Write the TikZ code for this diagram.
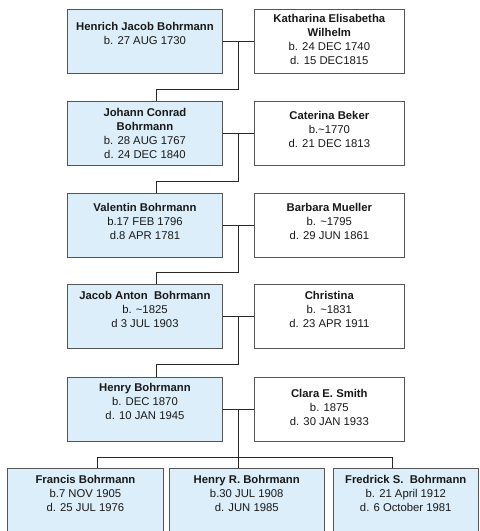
\documentclass[tikz,border=0pt]{standalone}
\usepackage{fontspec}
\setmainfont{Liberation Sans}
\usetikzlibrary{calc}
\definecolor{boxblue}{RGB}{220,238,249}
\definecolor{edgegray}{RGB}{85,85,85}
\definecolor{linegray}{RGB}{40,40,40}
\definecolor{txt}{RGB}{25,25,25}
\newcommand{\fstrut}{\rule{0pt}{9pt}}
\begin{document}
\begin{tikzpicture}[x=1pt,y=-1pt,
  person/.style={draw=edgegray,line width=0.9pt,fill=boxblue,inner sep=0pt,
    minimum height=64pt,anchor=north west},
  spouse/.style={draw=edgegray,line width=0.9pt,fill=white,inner sep=0pt,
    minimum height=64pt,minimum width=149.2pt,anchor=north west},
  lbox/.style={person,minimum width=155.6pt},
  info/.style={anchor=north,inner sep=0pt,align=center,text=txt,
    font=\fontsize{11.3}{14}\selectfont},
  link/.style={draw=linegray,line width=0.9pt}]
\clip (0,0) rectangle (480,531);
\fill[white] (0,0) rectangle (480,531);
% boxes
\node[lbox] (p1) at (66.7,9.3) {};
\node[spouse] (s1) at (254.3,9.3) {};
\node[lbox] (p2) at (66.7,100.9) {};
\node[spouse] (s2) at (254.3,100.9) {};
\node[lbox] (p3) at (66.7,192.7) {};
\node[spouse] (s3) at (254.3,192.7) {};
\node[lbox] (p4) at (66.7,284.3) {};
\node[spouse] (s4) at (254.3,284.3) {};
\node[lbox] (p5) at (66.7,376.5) {};
\node[spouse] (s5) at (254.3,376.5) {};
\node[person,minimum width=155.4pt] (k1) at (7.3,468) {};
\node[person,minimum width=155.6pt] (k2) at (168.5,468) {};
\node[person,minimum width=145.2pt] (k3) at (332.7,468) {};
% texts
\node[info] (tp1) at ($(p1.north)+(0,11.7)$) {\fstrut\textbf{Henrich Jacob Bohrmann}\\b. 27 AUG 1730};
\node[info] (ts1) at ($(s1.north)+(0,4.0)$) {\fstrut\textbf{Katharina Elisabetha}\\\textbf{Wilhelm}\\b. 24 DEC 1740\\d. 15 DEC1815};
\node[info] (tp2) at ($(p2.north)+(0,6.6)$) {\fstrut\textbf{Johann Conrad}\\\textbf{Bohrmann}\\b. 28 AUG 1767\\d. 24 DEC 1840};
\node[info] (ts2) at ($(s2.north)+(0,9.6)$) {\fstrut\textbf{Caterina Beker}\\b.\textasciitilde1770\\d. 21 DEC 1813};
\node[info] (tp3) at ($(p3.north)+(0,9.6)$) {\fstrut\textbf{Valentin Bohrmann}\\b.17 FEB 1796\\d.8 APR 1781};
\node[info] (ts3) at ($(s3.north)+(0,9.6)$) {\fstrut\textbf{Barbara Mueller}\\b. \textasciitilde1795\\d. 29 JUN 1861};
\node[info] (tp4) at ($(p4.north)+(0,6.0)$) {\fstrut\textbf{Jacob Anton\ \ Bohrmann}\\b. \textasciitilde1825\\d 3 JUL 1903};
\node[info] (ts4) at ($(s4.north)+(0,6.0)$) {\fstrut\textbf{Christina}\\b. \textasciitilde1831\\d. 23 APR 1911};
\node[info] (tp5) at ($(p5.north)+(0,6.0)$) {\fstrut\textbf{Henry Bohrmann}\\b. DEC 1870\\d. 10 JAN 1945};
\node[info] (ts5) at ($(s5.north)+(0,11.8)$) {\fstrut\textbf{Clara E. Smith}\\b. 1875\\d. 30 JAN 1933};
\node[info] (tk1) at ($(k1.north)+(0,6.0)$) {\fstrut\textbf{Francis Bohrmann}\\b.7 NOV 1905\\d. 25 JUL 1976};
\node[info] (tk2) at ($(k2.north)+(0,6.0)$) {\fstrut\textbf{Henry R. Bohrmann}\\b.30 JUL 1908\\d. JUN 1985};
\node[info] (tk3) at ($(k3.north)+(0,6.0)$) {\fstrut\textbf{Fredrick S.\ \ Bohrmann}\\b. 21 April 1912\\d. 6 October 1981};
% couple links
\foreach \i in {1,...,5}{
  \draw[link] (p\i.east) -- (s\i.west);
  \coordinate (m\i) at ($(p\i.east)!0.5!(s\i.west)$);
}
% descent links
\foreach \i/\j in {1/2,2/3,3/4,4/5}{
  \coordinate (d\j) at ($(p\j.north west)+(89.8,0)$);
  \coordinate (e\j) at ($(d\j)+(0,-11.7)$);
  \draw[link] (m\i) |- (e\j) -- (d\j);
}
% children
\coordinate (j1) at ($(k1.north west)+(90.4,0)$);
\coordinate (j2) at (m5 |- k2.north);
\coordinate (j3) at ($(k3.north west)+(59.6,0)$);
\coordinate (bar) at ($(j2)+(0,-10.5)$);
\draw[link] (m5) -- (j2);
\draw[link] (j1) |- (bar) -| (j3);
\end{tikzpicture}
\end{document}
